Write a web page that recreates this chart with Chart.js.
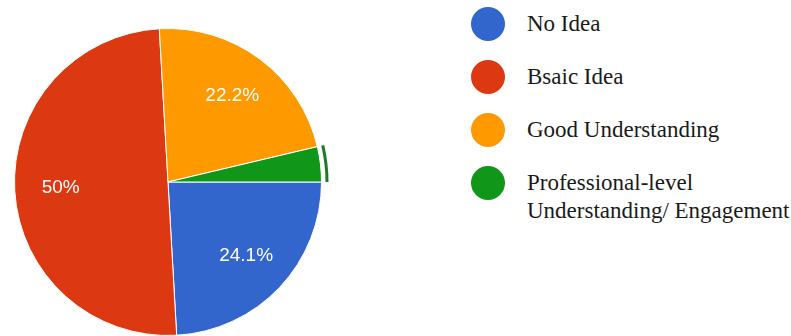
<!DOCTYPE html>
<html>
<head>
<meta charset="utf-8">
<script src="https://cdn.jsdelivr.net/npm/chart.js@4"></script>
<style>
    html, body {
        margin: 0;
        padding: 0;
        background: #fff;
    }
    body {
        width: 791px;
        height: 336px;
        position: relative;
        overflow: hidden;
    }
    #pieWrap {
        position: absolute;
        left: 0;
        top: 0;
        width: 336px;
        height: 336px;
    }
    #legend {
        position: absolute;
        left: 471px;
        top: 0;
        margin: 0;
        padding: 0;
        list-style: none;
        font-family: "Liberation Serif", "Times New Roman", serif;
        font-size: 23px;
        line-height: 28px;
        color: #1a1a1a;
    }
    #legend li {
        position: relative;
        height: 53px;
        padding-left: 56px;
        padding-top: 10px;
        box-sizing: border-box;
        white-space: nowrap;
    }
    #legend .dot {
        position: absolute;
        left: 0;
        top: 7px;
        width: 34px;
        height: 34px;
        border-radius: 50%;
    }
</style>
</head>
<body>
<div id="pieWrap"><canvas id="pieChart"></canvas></div>
<ul id="legend"></ul>
<script>
    const labels = [
        'No Idea',
        'Bsaic Idea',
        'Good Understanding',
        ['Professional-level', 'Understanding/ Engagement']
    ];
    const shares = [24.1, 50, 22.2, 3.7];
    const colors = ['#3366cc', '#dc3912', '#ff9900', '#109618'];
    const selectedIndex = 3;

    // legend on the right, one row per slice
    function buildLegend() {
        const list = document.getElementById('legend');
        labels.forEach(function (label, i) {
            const li = document.createElement('li');
            const dot = document.createElement('span');
            dot.className = 'dot';
            dot.style.background = colors[i];
            li.appendChild(dot);
            const lines = Array.isArray(label) ? label : [label];
            lines.forEach(function (line, j) {
                if (j > 0) {
                    li.appendChild(document.createElement('br'));
                }
                li.appendChild(document.createTextNode(line));
            });
            list.appendChild(li);
        });
    }

    // percentage text inside the larger slices
    const sliceLabels = {
        id: 'sliceLabels',
        afterDatasetsDraw: function (chart) {
            const ctx = chart.ctx;
            const meta = chart.getDatasetMeta(0);
            ctx.save();
            ctx.font = '19px "Liberation Sans", Arial, sans-serif';
            ctx.fillStyle = '#fff';
            ctx.textAlign = 'center';
            ctx.textBaseline = 'middle';
            meta.data.forEach(function (arc, i) {
                if (shares[i] < 5) {
                    return;
                }
                const p = arc.getProps(['x', 'y', 'startAngle', 'endAngle', 'outerRadius'], true);
                const mid = (p.startAngle + p.endAngle) / 2;
                const r = p.outerRadius * 0.7;
                ctx.fillText(shares[i] + '%', p.x + Math.cos(mid) * r, p.y + Math.sin(mid) * r);
            });
            ctx.restore();
        }
    };

    // outline ring around the selected slice
    const selectionRing = {
        id: 'selectionRing',
        afterDatasetsDraw: function (chart) {
            const arc = chart.getDatasetMeta(0).data[selectedIndex];
            if (!arc) {
                return;
            }
            const p = arc.getProps(['x', 'y', 'startAngle', 'endAngle', 'outerRadius'], true);
            const ctx = chart.ctx;
            ctx.save();
            ctx.beginPath();
            ctx.arc(p.x, p.y, p.outerRadius + 5.5, p.startAngle, p.endAngle);
            ctx.lineWidth = 3;
            ctx.strokeStyle = '#1b7a24';
            ctx.stroke();
            ctx.restore();
        }
    };

    buildLegend();

    new Chart(document.getElementById('pieChart'), {
        type: 'pie',
        data: {
            labels: labels,
            datasets: [{
                data: shares,
                backgroundColor: colors,
                borderColor: '#ffffff',
                borderWidth: 1,
                hoverOffset: 0
            }]
        },
        options: {
            responsive: true,
            maintainAspectRatio: false,
            animation: false,
            rotation: 90,
            layout: {
                padding: {
                    top: 28,
                    left: 14,
                    right: 14,
                    bottom: 0
                }
            },
            plugins: {
                legend: {
                    display: false
                },
                tooltip: {
                    enabled: false
                }
            }
        },
        plugins: [sliceLabels, selectionRing]
    });
</script>
</body>
</html>
